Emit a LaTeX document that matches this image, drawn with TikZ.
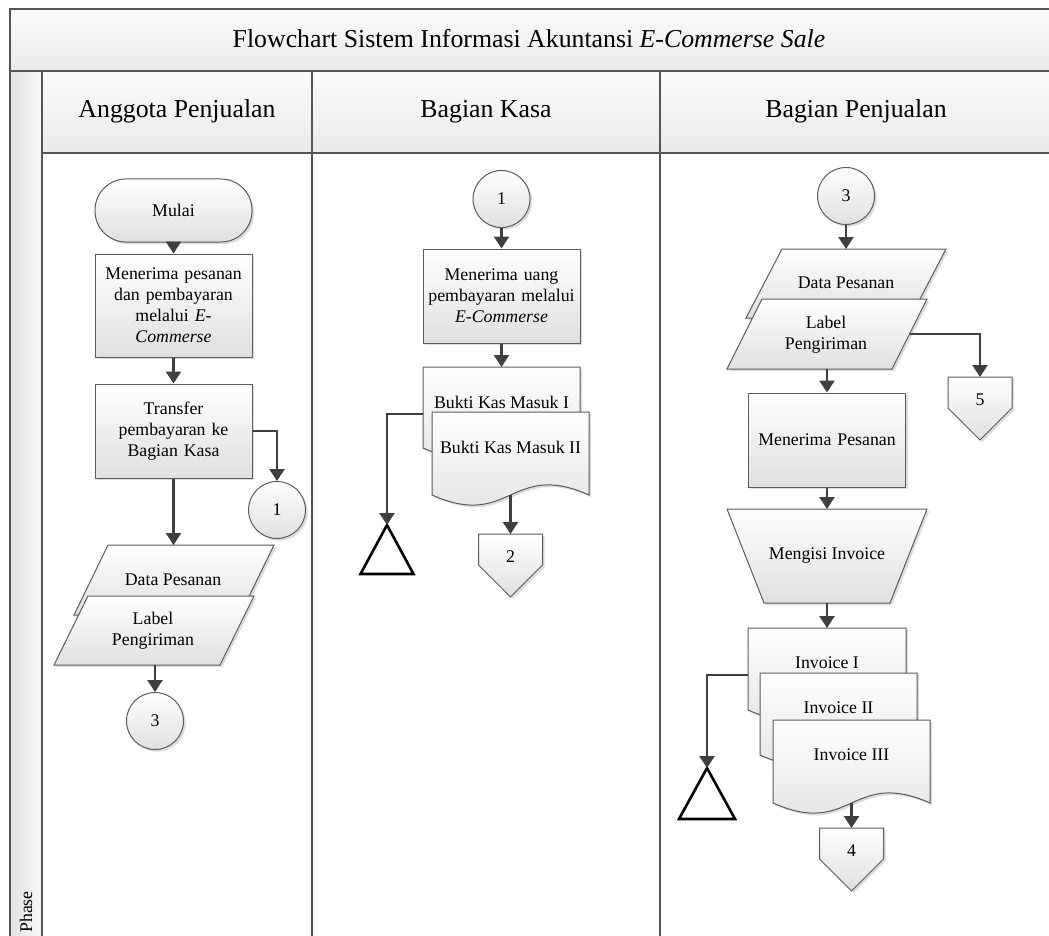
\documentclass[tikz,border=0pt]{standalone}
\usepackage{fontspec}
\setmainfont{Liberation Serif}
\usetikzlibrary{arrows.meta,shadows}

\definecolor{frameline}{HTML}{555555}
\definecolor{shapeline}{HTML}{5C5C5C}
\definecolor{flowline}{HTML}{3F3F3F}
\definecolor{shadelo}{HTML}{E0E0E0}
\definecolor{bandhi}{HTML}{FBFBFB}
\definecolor{bandlo}{HTML}{EAEAEA}

\tikzset{
  shp/.style={draw=shapeline, line width=1pt, top color=white, bottom color=shadelo,
    drop shadow={shadow xshift=2.2pt, shadow yshift=-2.2pt, fill=black!45, opacity=0.3}},
  body/.style={font=\fontsize{17.8}{21}\selectfont, align=center, inner sep=0pt},
  heading/.style={font=\fontsize{25.8}{30}\selectfont, inner sep=0pt, text height=18pt, text depth=6pt},
  procbox/.style={shp, rectangle, minimum width=157pt, body, text width=150pt},
  conn/.style={shp, circle, minimum size=57pt, body},
  flow/.style={draw=flowline, line width=2.6pt, -{Triangle[length=12pt,width=15pt]}},
  mergetri/.style={draw=black, line width=2.6pt, fill=white, line join=miter},
  lane/.style={draw=frameline, line width=1.8pt},
}

% document symbol with a wavy lower edge: name, x, y (top left), width, side height, text
\newcommand{\docshape}[6]{%
  \path[shp] (#2,#3) -- ({#2+#4},#3) -- ({#2+#4},{#3+#5})
     .. controls ({#2+0.5*#4},{#3+#5-35}) and ({#2+0.5*#4},{#3+#5+35}) .. (#2,{#3+#5}) -- cycle;
  \node[body] (#1) at ({#2+0.5*#4},{#3+35}) {#6};
  \coordinate (#1-n) at ({#2+0.5*#4},#3);
  \coordinate (#1-s) at ({#2+0.5*#4},{#3+#5});
  \coordinate (#1-w) at (#2,{#3+47});
}
% off-page connector: name, centre x, top y, label
\newcommand{\offpage}[4]{%
  \path[shp] ({#2-32},#3) -- ({#2+32},#3) -- ({#2+32},{#3+31}) -- (#2,{#3+63}) -- ({#2-32},{#3+31}) -- cycle;
  \node[body] (#1) at (#2,{#3+23}) {#4};
  \coordinate (#1-n) at (#2,#3);
}
% archive triangle: name, apex x, apex y, half width, height
\newcommand{\mergetri}[5]{%
  \draw[mergetri] (#2,#3) -- ({#2+#4},{#3+#5}) -- ({#2-#4},{#3+#5}) -- cycle;
  \coordinate (#1) at (#2,#3);
}

\begin{document}
\begin{tikzpicture}[x=1pt,y=-1pt]
\useasboundingbox (0,0) rectangle (1049,936);

% ---- swimlane frame ----
\path[top color=bandhi, bottom color=bandlo] (10,9) rectangle (1049,71);
\path[top color=bandhi, bottom color=bandlo] (42,71) rectangle (1049,153);
\path[left color=black!11, right color=black!3] (10,71) rectangle (42,936);
\draw[lane] (1049,9) -- (10,9) -- (10,936);
\draw[lane] (10,71) -- (1049,71);
\draw[lane] (42,153) -- (1049,153);
\draw[lane] (42,71) -- (42,936);
\draw[lane] (312,71) -- (312,936);
\draw[lane] (660,71) -- (660,936);

\node[heading] (title) at (529,42) {Flowchart Sistem Informasi Akuntansi \textit{E-Commerse Sale}};
\node[heading] (lane1) at (177,112) {Anggota Penjualan};
\node[heading] (lane2) at (486,112) {Bagian Kasa};
\node[heading] (lane3) at (856,112) {Bagian Penjualan};
\node[body, rotate=90] (phase) at (26,912) {Phase};

% ---- Anggota Penjualan ----
\node[shp, rectangle, rounded corners=31pt, minimum width=157pt, minimum height=63pt, body] (start) at (173.5,210.5) {Mulai};
\node[procbox, minimum height=103pt] (recv) at (173.5,305.5) {Menerima pesanan\\dan pembayaran\\melalui \textit{E-}\\\textit{Commerse}};
\node[procbox, minimum height=94pt] (transfer) at (173.5,431) {Transfer\\pembayaran ke\\Bagian Kasa};
\node[conn] (c1a) at (277,510) {1};

\path[shp] (108,545) -- (274,545) -- (240,615) -- (74,615) -- cycle;
\node[body] (dp1) at (173,580) {Data Pesanan};
\path[shp] (88,596) -- (254,596) -- (220,665) -- (54,665) -- cycle;
\node[body] (lp1) at (153,631) {Label\\Pengiriman};
\coordinate (dp1n) at (173.5,545);
\coordinate (lp1s) at (155,665);
\node[conn] (c3a) at (155,721) {3};

\draw[flow] (start) -- (recv);
\draw[flow] (recv) -- (transfer);
\draw[flow] (transfer.east) -| (c1a.north);
\draw[flow] (transfer.south) -- (dp1n);
\draw[flow] (lp1s) -- (c3a.north);

% ---- Bagian Kasa ----
\node[conn] (c1b) at (501.5,199) {1};
\node[procbox, minimum height=94pt] (cash) at (501.5,296) {Menerima uang\\pembayaran melalui\\\textit{E-Commerse}};
\docshape{bkm1}{423}{367}{157}{81}{Bukti Kas Masuk I}
\docshape{bkm2}{432}{412}{157}{83}{Bukti Kas Masuk II}
\mergetri{tri1}{387}{525}{26.5}{49}
\offpage{off2}{510.5}{534}{2}

\draw[flow] (c1b) -- (cash);
\draw[flow] (cash) -- (bkm1-n);
\draw[flow] (bkm1-w) -| (tri1);
\draw[flow] (bkm2-s) -- (off2-n);

% ---- Bagian Penjualan ----
\node[conn] (c3b) at (846,196) {3};
\path[shp] (782,249) -- (946,249) -- (910,318) -- (746,318) -- cycle;
\node[body] (dp2) at (846,283) {Data Pesanan};
\path[shp] (762,299) -- (927,299) -- (892,369) -- (727,369) -- cycle;
\node[body] (lp2) at (826,335) {Label\\Pengiriman};
\coordinate (dp2n) at (846,249);
\coordinate (lp2e) at (909.5,334);
\coordinate (lp2s) at (827,369);
\offpage{off5}{980}{377}{5}

\node[procbox, minimum height=94pt] (order) at (827,440) {Menerima Pesanan};
\path[shp] (727,509) -- (927,509) -- (890,603) -- (764,603) -- cycle;
\node[body] (fill) at (827,556) {Mengisi Invoice};
\coordinate (trapn) at (827,509);
\coordinate (traps) at (827,603);

\docshape{inv1}{748}{628}{158}{82}{Invoice I}
\docshape{inv2}{760}{673}{157}{82}{Invoice II}
\docshape{inv3}{773}{720}{157}{83}{Invoice III}
\mergetri{tri2}{707}{768}{28}{51}
\offpage{off4}{851.5}{828}{4}

\draw[flow] (c3b) -- (dp2n);
\draw[flow] (lp2e) -| (off5-n);
\draw[flow] (lp2s) -- (order.north);
\draw[flow] (order) -- (trapn);
\draw[flow] (traps) -- (inv1-n);
\draw[flow] (inv1-w) -| (tri2);
\draw[flow] (inv3-s) -- (off4-n);
\end{tikzpicture}
\end{document}
